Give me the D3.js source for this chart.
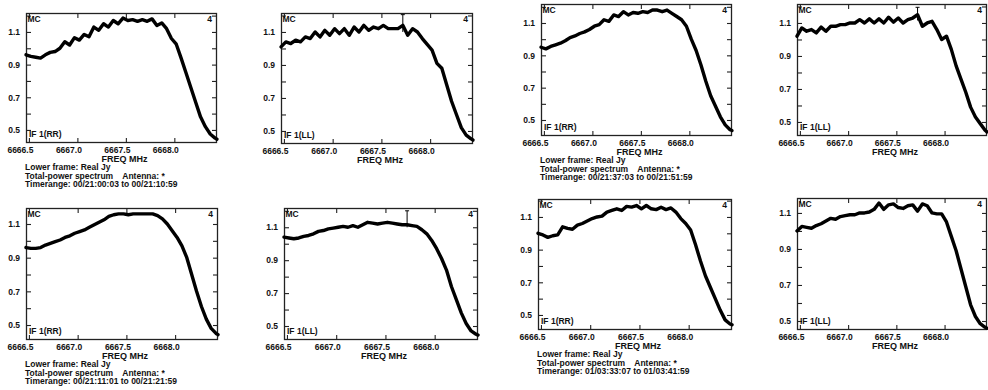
<!DOCTYPE html>
<html>
<head>
<meta charset="utf-8">
<script src="https://cdn.jsdelivr.net/npm/d3@7"></script>
<style>
  html, body { margin: 0; padding: 0; background: #fff; }
  svg { display: block; }
  text { font-family: "Liberation Sans", Arial, sans-serif; font-weight: bold; font-size: 8.5px; fill: #111; }
</style>
</head>
<body>
<svg id="chart" width="988" height="390"></svg>
<script>
// Channel frequencies (MHz), shared by every spectrum
const freqMHz = [
  6666.47, 6666.52, 6666.57, 6666.62, 6666.67, 6666.72, 6666.77, 6666.82, 6666.87, 6666.92,
  6666.97, 6667.02, 6667.07, 6667.12, 6667.17, 6667.22, 6667.27, 6667.32, 6667.37, 6667.42,
  6667.47, 6667.52, 6667.57, 6667.62, 6667.67, 6667.72, 6667.77, 6667.82, 6667.87, 6667.92,
  6667.97, 6668.02, 6668.07, 6668.12, 6668.17, 6668.22, 6668.27, 6668.32, 6668.37, 6668.42, 6668.44
];

// Total-power spectra (Jy), one per scan and polarisation
const rrScan1 = [0.96,0.95,0.945,0.94,0.96,0.975,0.98,1.00,1.04,1.02,1.065,1.05,1.085,1.07,1.13,1.11,1.15,1.13,1.17,1.15,1.185,1.17,1.175,1.165,1.175,1.165,1.18,1.14,1.155,1.12,1.06,1.025,0.94,0.85,0.76,0.67,0.58,0.52,0.475,0.45,0.443];
const llScan1 = [1.01,1.04,1.03,1.05,1.04,1.07,1.06,1.10,1.07,1.11,1.08,1.12,1.09,1.12,1.08,1.13,1.10,1.14,1.11,1.13,1.12,1.14,1.12,1.12,1.12,1.14,1.08,1.12,1.10,1.06,1.025,0.99,0.91,0.88,0.78,0.68,0.60,0.52,0.475,0.452,0.445];
const rrScan2 = [0.95,0.94,0.955,0.965,0.975,0.99,1.01,1.02,1.035,1.045,1.06,1.08,1.09,1.12,1.11,1.15,1.14,1.17,1.15,1.165,1.16,1.17,1.165,1.18,1.18,1.17,1.18,1.16,1.14,1.12,1.08,1.00,0.93,0.84,0.74,0.65,0.585,0.52,0.47,0.44,0.435];
const llScan2 = [1.02,1.07,1.05,1.06,1.04,1.075,1.05,1.08,1.08,1.09,1.09,1.10,1.10,1.12,1.10,1.125,1.10,1.125,1.10,1.135,1.105,1.13,1.10,1.12,1.13,1.15,1.08,1.10,1.11,1.06,1.00,1.02,0.94,0.84,0.76,0.68,0.59,0.53,0.49,0.45,0.44];
const rrScan3 = [0.96,0.955,0.955,0.96,0.975,0.985,0.995,1.005,1.02,1.03,1.045,1.055,1.065,1.08,1.095,1.11,1.125,1.145,1.155,1.16,1.16,1.155,1.16,1.16,1.16,1.16,1.16,1.15,1.13,1.10,1.06,1.02,0.97,0.90,0.80,0.70,0.61,0.535,0.48,0.45,0.443];
const llScan3 = [1.04,1.035,1.03,1.035,1.045,1.05,1.06,1.075,1.08,1.09,1.095,1.10,1.105,1.10,1.11,1.10,1.115,1.13,1.125,1.12,1.125,1.13,1.125,1.12,1.115,1.115,1.11,1.105,1.085,1.06,1.02,0.97,0.91,0.84,0.74,0.66,0.58,0.515,0.47,0.45,0.445];
const rrScan4 = [1.00,0.99,0.975,0.985,0.99,1.04,1.03,1.025,1.05,1.06,1.075,1.09,1.10,1.105,1.13,1.14,1.15,1.14,1.165,1.16,1.17,1.15,1.17,1.15,1.145,1.16,1.145,1.155,1.13,1.09,1.06,1.02,0.93,0.83,0.74,0.67,0.60,0.53,0.47,0.445,0.44];
const llScan4 = [1.00,1.025,1.02,1.015,1.03,1.04,1.055,1.07,1.065,1.08,1.085,1.09,1.09,1.10,1.10,1.105,1.12,1.155,1.12,1.145,1.15,1.13,1.125,1.14,1.145,1.11,1.15,1.14,1.10,1.095,1.095,1.05,0.97,0.89,0.79,0.69,0.59,0.525,0.485,0.465,0.46];

// Single-channel error bars (channel at 6667.72 MHz): low / high in Jy, null where none drawn
const errorBarFreq = 6667.72;
const errorBarLow  = [null, 1.10, null, 1.115, null, 1.10, null, null];
const errorBarHigh = [null, 1.205, null, 1.195, null, 1.20, null, null];

const spectra = [rrScan1, llScan1, rrScan2, llScan2, rrScan3, llScan3, rrScan4, llScan4];
const polLabels = ["IF 1(RR)", "IF 1(LL)", "IF 1(RR)", "IF 1(LL)", "IF 1(RR)", "IF 1(LL)", "IF 1(RR)", "IF 1(LL)"];
const timeranges = [
  "00/21:00:03 to 00/21:10:59", null,
  "00/21:37:03 to 00/21:51:59", null,
  "00/21:11:01 to 00/21:21:59", null,
  "01/03:33:07 to 01/03:41:59", null
];
const sourceName = "MC";
const plotNumber = "4";
const xTickLabels = [6666.5, 6667.0, 6667.5, 6668.0];
const yTickLabels = [0.5, 0.7, 0.9, 1.1];
const yMinorTicks = [0.6, 0.8, 1.0, 1.2];
const freqRange = [6666.47, 6668.44];

// Frame placement of each panel and its auto-scaled flux range
const frames = [
  { x0: 26,  x1: 217, y0: 13,  y1: 143, yDom: [0.420, 1.216] },
  { x0: 281, x1: 473, y0: 13,  y1: 144, yDom: [0.421, 1.215] },
  { x0: 541, x1: 732, y0: 4,   y1: 136, yDom: [0.401, 1.2175] },
  { x0: 797, x1: 987, y0: 4,   y1: 136, yDom: [0.415, 1.215] },
  { x0: 26,  x1: 218, y0: 208, y1: 340, yDom: [0.411, 1.195] },
  { x0: 284, x1: 478, y0: 208, y1: 340, yDom: [0.415, 1.217] },
  { x0: 538, x1: 732, y0: 199, y1: 330, yDom: [0.408, 1.210] },
  { x0: 797, x1: 987, y0: 198, y1: 330, yDom: [0.450, 1.183] }
];

const svg = d3.select("#chart");
const TICK = 5;

frames.forEach((fr, i) => {
  const x = d3.scaleLinear().domain(freqRange).range([fr.x0, fr.x1]);
  const y = d3.scaleLinear().domain(fr.yDom).range([fr.y1, fr.y0]);
  const g = svg.append("g");
  const inY = v => v >= fr.yDom[0] && v <= fr.yDom[1];

  // frame
  g.append("rect")
    .attr("x", fr.x0 + 0.5).attr("y", fr.y0 + 0.5)
    .attr("width", fr.x1 - fr.x0 - 1).attr("height", fr.y1 - fr.y0 - 1)
    .attr("fill", "none").attr("stroke", "#222").attr("stroke-width", 1.3);

  const clean = a => a.call(s => s.select(".domain").remove())
                      .call(s => s.selectAll("line").attr("stroke", "#222").attr("stroke-width", 1.1));

  // left axis: labelled ticks + minor ticks, all pointing inward
  g.append("g").attr("transform", `translate(${fr.x0},0)`)
    .call(d3.axisLeft(y).tickValues(yTickLabels.filter(inY)).tickSize(-TICK).tickPadding(6).tickFormat(d3.format(".1f")))
    .call(clean)
    .call(s => s.selectAll("text").style("font-size", "8.5px").style("font-family", null));
  g.append("g").attr("transform", `translate(${fr.x0},0)`)
    .call(d3.axisLeft(y).tickValues(yMinorTicks.filter(inY)).tickSize(-TICK).tickFormat(""))
    .call(clean);
  // right axis
  g.append("g").attr("transform", `translate(${fr.x1},0)`)
    .call(d3.axisRight(y).tickValues(yTickLabels.concat(yMinorTicks).filter(inY)).tickSize(-TICK).tickFormat(""))
    .call(clean);
  // top axis
  g.append("g").attr("transform", `translate(0,${fr.y0})`)
    .call(d3.axisTop(x).tickValues(xTickLabels).tickSize(-TICK).tickFormat(""))
    .call(clean);
  // bottom axis with labels set slightly left of their ticks
  g.append("g").attr("transform", `translate(0,${fr.y1})`)
    .call(d3.axisBottom(x).tickValues(xTickLabels).tickSize(-TICK).tickPadding(4).tickFormat(d3.format(".1f")))
    .call(clean)
    .call(s => s.selectAll("text").attr("text-anchor", "end").attr("x", 4)
      .style("font-size", "8.5px").style("font-family", null));

  // spectrum
  const pts = freqMHz.map((f, k) => [f, spectra[i][k]]);
  g.append("path")
    .datum(pts)
    .attr("fill", "none").attr("stroke", "#000").attr("stroke-width", 3.4)
    .attr("stroke-linejoin", "round").attr("stroke-linecap", "round")
    .attr("d", d3.line().x(d => x(d[0])).y(d => y(d[1])));

  // error bar
  if (errorBarLow[i] !== null) {
    const ex = x(errorBarFreq);
    g.append("line").attr("x1", ex).attr("x2", ex)
      .attr("y1", y(errorBarLow[i])).attr("y2", y(errorBarHigh[i]))
      .attr("stroke", "#000").attr("stroke-width", 1);
    g.append("line").attr("x1", ex - 2).attr("x2", ex + 2)
      .attr("y1", y(errorBarHigh[i])).attr("y2", y(errorBarHigh[i]))
      .attr("stroke", "#000").attr("stroke-width", 1);
  }

  // in-frame annotations
  g.append("text").attr("x", fr.x0 + 1.5).attr("y", fr.y0 + 9).text(sourceName);
  g.append("text").attr("x", fr.x1 - 5).attr("y", fr.y0 + 9).attr("text-anchor", "end").text(plotNumber);
  g.append("text").attr("x", fr.x0 + 3).attr("y", fr.y1 - 6).text(polLabels[i]);

  // axis title and header block
  g.append("text").attr("x", (fr.x0 + fr.x1) / 2 + 3).attr("y", fr.y1 + 18.5)
    .attr("text-anchor", "middle").style("font-size", "9px").text("FREQ MHz");
  if (timeranges[i]) {
    const tx = fr.x0 - 1;
    g.append("text").attr("x", tx).attr("y", fr.y1 + 27).text("Lower frame: Real Jy");
    g.append("text").attr("x", tx).attr("y", fr.y1 + 35.5).attr("xml:space", "preserve")
      .text("Total-power spectrum    Antenna: *");
    g.append("text").attr("x", tx).attr("y", fr.y1 + 44).text("Timerange: " + timeranges[i]);
  }
});
</script>
</body>
</html>
